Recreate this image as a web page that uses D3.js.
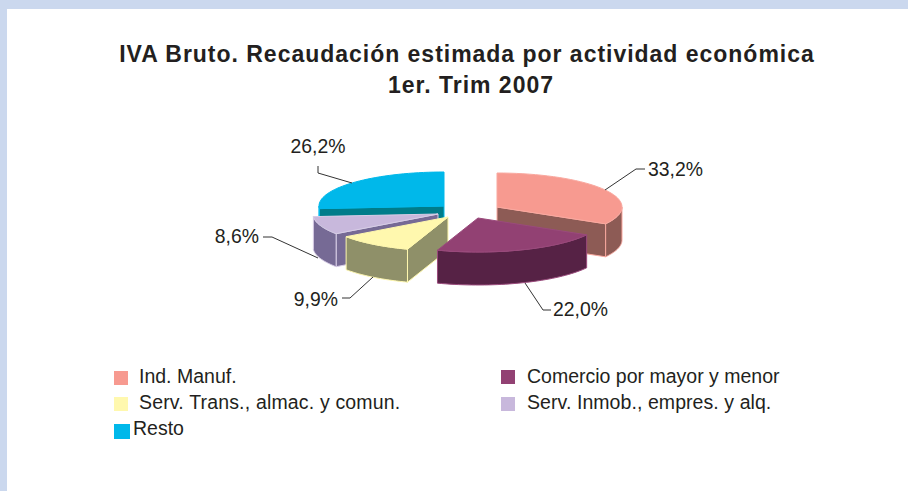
<!DOCTYPE html>
<html><head><meta charset="utf-8">
<script src="https://cdnjs.cloudflare.com/ajax/libs/d3/7.8.5/d3.min.js"></script>
<style>
html,body{margin:0;padding:0;background:#fff;overflow:hidden}
svg{display:block}
text{font-family:"Liberation Sans",Arial,sans-serif;fill:#231F20}
</style></head><body>
<script>
const categories = ["Ind. Manuf.","Comercio por mayor y menor","Serv. Trans., almac. y comun.","Serv. Inmob., empres. y alq.","Resto"];
const values = [33.2,22.0,9.9,8.6,26.2];
const topColors = ["#F79A90","#924173","#FFF8AE","#C8B8DC","#00B8EA"];
const wallColors = ["#8D5B55","#562245","#8F9069","#766A95","#007C8A"];
const edgeColors = ["#F9A89F","#9A4A7C","#FFF8AE","#D8CDE6","#00B8EA"];
const titleLines = ["IVA Bruto. Recaudación estimada por actividad económica","1er. Trim 2007"];

const W=908,H=491, RX=125, RY=34, DEPTH=33;
// exploded apex of each slice on the page
const apexX = d3.scaleOrdinal().domain(categories).range([497,478,448,438,444]);
const apexY = d3.scaleOrdinal().domain(categories).range([207,218,217,214,206]);
const topC = d3.scaleOrdinal().domain(categories).range(topColors);
const wallC = d3.scaleOrdinal().domain(categories).range(wallColors);
const edgeC = d3.scaleOrdinal().domain(categories).range(edgeColors);
// painter's order: back slices first
const paintOrder = ["Resto","Ind. Manuf.","Serv. Inmob., empres. y alq.","Serv. Trans., almac. y comun.","Comercio por mayor y menor"];
// label layout: text anchor point + leader polyline
const labelLayout = {
 "Ind. Manuf.":{x:648,y:169,a:"start",lead:[[605,190],[636,169],[645,169]]},
 "Comercio por mayor y menor":{x:553,y:309,a:"start",lead:[[525,283],[543,310],[551,310]]},
 "Serv. Trans., almac. y comun.":{x:338,y:299,a:"end",lead:[[373,277],[350,298],[342,298]]},
 "Serv. Inmob., empres. y alq.":{x:259,y:236,a:"end",lead:[[318,258],[272,237],[263,237]]},
 "Resto":{x:318,y:146,a:"middle",lead:[[352,183],[318,173],[318,166]]}
};
const titleCenters = [467,471];
const legendLayout = [
 {x:114,y:371,w:14,h:14,tx:139,ty:376,ls:0},
 {x:501,y:370,w:14,h:14,tx:527,ty:376,ls:0},
 {x:114,y:397,w:14,h:14,tx:139,ty:402,ls:0.17},
 {x:501,y:397,w:14,h:14,tx:527,ty:402,ls:0.07},
 {x:114,y:424,w:16,h:15,tx:133,ty:428,ls:0}
];

const svg=d3.select("body").append("svg").attr("width",W).attr("height",H);
svg.append("rect").attr("width",W).attr("height",H).attr("fill","#CBD8EE");
svg.append("rect").attr("x",7).attr("y",9).attr("width",W-7).attr("height",H-9).attr("fill","#fff");

svg.selectAll("text.title").data(titleLines).join("text").attr("class","title")
 .attr("x",(d,i)=>titleCenters[i]).attr("y",(d,i)=>54+i*31).attr("dy","0.35em").attr("text-anchor","middle")
 .attr("font-size",23).attr("font-weight","bold").attr("letter-spacing",0.98).text(d=>d);

const pie=d3.pie().sort(null).value(d=>d.v);
const arcs=pie(categories.map((c,i)=>({c,v:values[i]})));
const line=d3.line();
const pt=(s,a,dz=0)=>[apexX(s)+RX*Math.sin(a), apexY(s)-RY*Math.cos(a)+dz];
const rim=(s,a0,a1,dz=0)=>d3.range(0,41).map(i=>pt(s,a0+(a1-a0)*i/40,dz));
const g=svg.append("g");
paintOrder.forEach(name=>{
  const d=arcs.find(x=>x.data.c===name);
  const a0=d.startAngle,a1=d.endAngle, O=[apexX(name),apexY(name)], Od=[O[0],O[1]+DEPTH];
  const wall=pts=>g.append("path").attr("d",line(pts)+"Z").attr("fill",wallC(name)).attr("stroke",edgeC(name)).attr("stroke-width",1).attr("stroke-linejoin","round");
  // radial walls that face the viewer
  if(Math.sin(a0)<0) wall([O,pt(name,a0),pt(name,a0,DEPTH),Od]);
  if(Math.sin(a1)>0.01) wall([O,pt(name,a1),pt(name,a1,DEPTH),Od]);
  // outer rim wall, front half only
  const f0=Math.max(a0,Math.PI/2), f1=Math.min(a1,Math.PI*1.5);
  if(f1>f0) wall([...rim(name,f0,f1),...rim(name,f1,f0,DEPTH)]);
  // top face
  g.append("path").attr("d",line([O,...rim(name,a0,a1)])+"Z").attr("fill",topC(name)).attr("stroke",edgeC(name)).attr("stroke-width",1).attr("stroke-linejoin","round");
});

categories.forEach((c,i)=>{
  const l=labelLayout[c];
  svg.append("path").attr("d",line(l.lead)).attr("fill","none").attr("stroke","#333").attr("stroke-width",1);
  svg.append("text").attr("x",l.x).attr("y",l.y).attr("dy","0.35em").attr("text-anchor",l.a)
    .attr("font-size",19.4).text(d3.format(".1f")(values[i]).replace(".",",")+"%");
  const k=legendLayout[i];
  svg.append("rect").attr("x",k.x).attr("y",k.y).attr("width",k.w).attr("height",k.h).attr("fill",topC(c));
  svg.append("text").attr("x",k.tx).attr("y",k.ty).attr("dy","0.35em").attr("font-size",19.5).attr("letter-spacing",k.ls).text(c);
});
</script></body></html>
